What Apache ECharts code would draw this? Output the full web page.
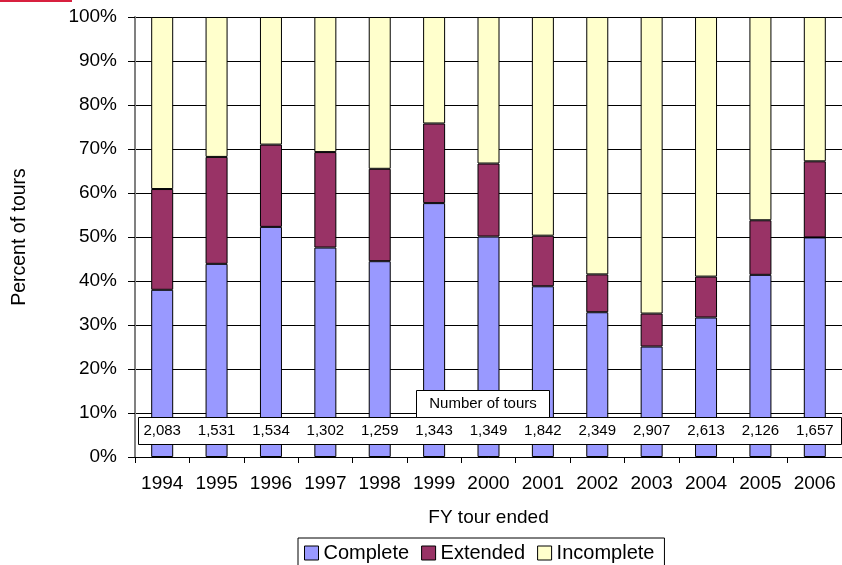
<!DOCTYPE html>
<html>
<head>
<meta charset="utf-8">
<script src="https://cdn.jsdelivr.net/npm/echarts@6/dist/echarts.min.js"></script>
<style>
html,body{margin:0;padding:0;background:#fff;}
#chart{width:842px;height:565px;}
</style>
</head>
<body>
<div id="chart"></div>
<script>
var years = ['1994','1995','1996','1997','1998','1999','2000','2001','2002','2003','2004','2005','2006'];
var complete = [38.0, 43.9, 52.3, 47.6, 44.5, 57.7, 50.1, 38.8, 32.9, 25.1, 31.7, 41.4, 49.9];
var extended = [22.9, 24.3, 18.7, 21.7, 21.0, 18.1, 16.6, 11.5, 8.6, 7.5, 9.3, 12.4, 17.3];
var incomplete = [39.1, 31.8, 29.0, 30.7, 34.5, 24.2, 33.3, 49.7, 58.5, 67.4, 59.0, 46.2, 32.8];
var tours = [2083, 1531, 1534, 1302, 1259, 1343, 1349, 1842, 2349, 2907, 2613, 2126, 1657];
var yTicks = [0, 10, 20, 30, 40, 50, 60, 70, 80, 90, 100];
var tourLabelLevel = 6; // percent level where the tour counts sit

var FONT = '"Liberation Sans", Arial, sans-serif';
var chart = echarts.init(document.getElementById('chart'), null, {renderer: 'canvas'});

var barCommon = {
  type: 'bar', stack: 'all', barWidth: 22,
  itemStyle: {borderColor: '#000', borderWidth: 1}
};

var option = {
  backgroundColor: '#fff',
  animation: false,
  textStyle: {fontFamily: FONT, color: '#000'},
  grid: {left: 135, top: 17, width: 711, height: 440, containLabel: false},
  legend: {
    data: ['Complete', 'Extended', 'Incomplete'],
    left: 298, top: 538,
    orient: 'horizontal',
    icon: 'rect', itemWidth: 14, itemHeight: 14, itemGap: 12,
    padding: [5, 10, 5, 6],
    borderColor: '#000', borderWidth: 1, backgroundColor: '#fff',
    textStyle: {fontFamily: FONT, fontSize: 20, color: '#000'},
    itemStyle: {borderColor: '#000', borderWidth: 1}
  },
  xAxis: {
    type: 'category', data: years,
    name: 'FY tour ended', nameLocation: 'middle', nameGap: 51,
    nameTextStyle: {fontFamily: FONT, fontSize: 19, color: '#000'},
    axisLine: {show: true, lineStyle: {color: '#000', width: 1}},
    axisTick: {show: true, alignWithLabel: false, length: 6, lineStyle: {color: '#000'}},
    axisLabel: {fontFamily: FONT, fontSize: 19, color: '#000', margin: 17, interval: 0},
    splitLine: {show: false}
  },
  yAxis: {
    type: 'value', min: 0, max: 100, interval: 10,
    name: 'Percent of tours', nameLocation: 'middle', nameGap: 105, nameRotate: 90,
    nameTextStyle: {fontFamily: FONT, fontSize: 19.5, color: '#000'},
    axisLine: {show: true, lineStyle: {color: '#808080', width: 2}},
    axisTick: {show: true, length: 7, lineStyle: {color: '#000'}},
    axisLabel: {fontFamily: FONT, fontSize: 19, color: '#000', margin: 18,
      formatter: function (v) { return yTicks.indexOf(v) >= 0 ? v + '%' : ''; }},
    splitLine: {show: true, lineStyle: {color: '#000', width: 1}}
  },
  graphic: [
    {type: 'line', z: 100, shape: {x1: 0, y1: 1, x2: 72, y2: 1}, style: {stroke: '#d8203f', lineWidth: 2}},
    {type: 'rect', z: 100, shape: {x: 138.5, y: 417.5, width: 703, height: 27},
      style: {fill: '#fff', stroke: '#000', lineWidth: 1}},
    {type: 'rect', z: 100, shape: {x: 416.5, y: 390.5, width: 133, height: 27},
      style: {fill: '#fff', stroke: '#000', lineWidth: 1}},
    {type: 'text', z: 101, x: 483, y: 404,
      style: {text: 'Number of tours', fill: '#000', font: '15px ' + FONT, textAlign: 'center', textVerticalAlign: 'middle'}}
  ],
  series: [
    Object.assign({}, barCommon, {name: 'Complete', data: complete, itemStyle: {color: '#9999ff', borderColor: '#000', borderWidth: 1}}),
    Object.assign({}, barCommon, {name: 'Extended', data: extended, itemStyle: {color: '#993366', borderColor: '#000', borderWidth: 1}}),
    Object.assign({}, barCommon, {name: 'Incomplete', data: incomplete, itemStyle: {color: '#ffffcc', borderColor: '#000', borderWidth: 1}}),
    {
      name: 'tours', type: 'scatter', z: 120,
      symbol: 'rect', symbolSize: 1,
      itemStyle: {color: 'rgba(255,255,255,0)'},
      data: tours.map(function (t, i) { return [years[i], tourLabelLevel, t]; }),
      label: {
        show: true, position: 'inside', fontFamily: FONT, fontSize: 15, color: '#000',
        textBorderWidth: 0, textBorderColor: 'transparent', opacity: 1,
        formatter: function (p) { return p.value[2].toLocaleString('en-US'); }
      },
      emphasis: {disabled: true},
      silent: true
    }
  ]
};
chart.setOption(option);
</script>
</body>
</html>
